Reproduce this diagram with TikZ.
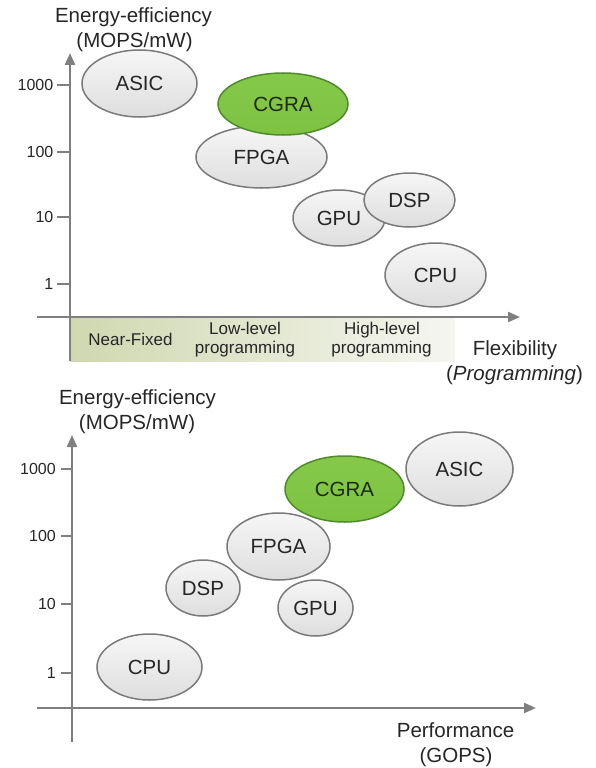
\documentclass[tikz,border=0pt]{standalone}
\usepackage{fontspec}
\setmainfont{Liberation Sans}
\usetikzlibrary{shapes.geometric,arrows.meta}
\definecolor{axisgray}{HTML}{7F7F7F}
\definecolor{edgegray}{HTML}{7A7A7A}
\definecolor{fillTop}{HTML}{F6F6F6}
\definecolor{fillBot}{HTML}{DEDEDE}
\definecolor{txt}{HTML}{262626}
\definecolor{cgraFill}{HTML}{7EC242}
\definecolor{cgraTop}{HTML}{86C94A}
\definecolor{cgraEdge}{HTML}{4F8A2B}
\definecolor{cgraTxt}{HTML}{1B2A10}
\definecolor{bandgreen}{HTML}{CFD8B0}
\definecolor{bandpale}{HTML}{F5F6F0}
\begin{document}
\begin{tikzpicture}[x=1pt,y=-1pt,
  axisline/.style={draw=axisgray,line width=2.2pt,-{Triangle[length=12pt,width=10pt]}},
  tickline/.style={draw=axisgray,line width=2pt},
  bigtext/.style={font=\fontsize{20.5}{24}\selectfont,text=txt,inner sep=0pt},
  bandtext/.style={font=\fontsize{17}{19.4}\selectfont,text=txt,inner sep=0pt},
  ticktext/.style={font=\fontsize{16}{18}\selectfont,text=txt,inner sep=0pt,anchor=east},
  blob/.style={ellipse,draw=edgegray,line width=1.5pt,top color=fillTop,bottom color=fillBot,
    inner sep=0pt,font=\fontsize{20.5}{24}\selectfont,text=txt},
  greenblob/.style={blob,draw=cgraEdge,top color=cgraTop,bottom color=cgraFill,text=cgraTxt}]
\useasboundingbox (0,0) rectangle (596,768);

% ---------- upper chart: efficiency versus flexibility ----------
\node[bigtext,anchor=base] (tY1) at (133.5,22.7) {Energy-efficiency};
\node[bigtext,anchor=base] (tY1b) at (134.5,47.7) {(MOPS/mW)};

% programming band under the horizontal axis
\shade[left color=bandgreen,right color=bandpale] (70,317) rectangle (455,361);
\node[bandtext,anchor=base] (nf) at (130.5,345) {Near-Fixed};
\node[bandtext,anchor=base] (ll1) at (245,334) {Low-level};
\node[bandtext,anchor=base] (ll2) at (245,353.3) {programming};
\node[bandtext,anchor=base] (hl1) at (382,334) {High-level};
\node[bandtext,anchor=base] (hl2) at (381.5,353.3) {programming};

\coordinate (oY1) at (70,361);
\coordinate (eY1) at (70,53);
\coordinate (sX1) at (37,317);
\coordinate (eX1) at (520,317);
\draw[axisline] (oY1) -- (eY1);
\draw[axisline] (sX1) -- (eX1);

\foreach \yy/\lab in {85/1000,152/100,217/10,284/1}{
  \draw[tickline] (57,\yy) -- (70,\yy);
  \node[ticktext] at (53.5,\yy) {\lab};
}

\node[bigtext,anchor=base] (fx) at (515,355.7) {Flexibility};
\node[bigtext,anchor=base] (fxb) at (514.5,380.7) {(\textit{Programming})};

\node[blob,minimum width=115pt,minimum height=67pt] (asic1) at (139.5,83.5) {ASIC};
\node[blob,minimum width=131pt,minimum height=62pt] (fpga1) at (261.5,157) {FPGA};
\node[greenblob,minimum width=130pt,minimum height=62pt] (cgra1) at (283,104) {CGRA};
\node[blob,minimum width=92pt,minimum height=56pt] (gpu1) at (339,218) {GPU};
\node[blob,minimum width=91pt,minimum height=54pt] (dsp1) at (409.5,200) {DSP};
\node[blob,minimum width=101pt,minimum height=64pt] (cpu1) at (435.5,275) {CPU};

% ---------- lower chart: efficiency versus performance ----------
\node[bigtext,anchor=base] (tY2) at (137.5,404) {Energy-efficiency};
\node[bigtext,anchor=base] (tY2b) at (137,429) {(MOPS/mW)};

\coordinate (oY2) at (72,742);
\coordinate (eY2) at (72,435);
\coordinate (sX2) at (37,708);
\coordinate (eX2) at (536,708);
\draw[axisline] (oY2) -- (eY2);
\draw[axisline] (sX2) -- (eX2);

\foreach \yy/\lab in {469/1000,536/100,604/10,673/1}{
  \draw[tickline] (61,\yy) -- (72,\yy);
  \node[ticktext] at (56,\yy) {\lab};
}

\node[bigtext,anchor=base] (pf) at (455.5,737) {Performance};
\node[bigtext,anchor=base] (pfb) at (456,762) {(GOPS)};

\node[blob,minimum width=105pt,minimum height=66pt] (cpu2) at (149.5,667) {CPU};
\node[blob,minimum width=74pt,minimum height=56pt] (dsp2) at (203,588) {DSP};
\node[blob,minimum width=75pt,minimum height=56pt] (gpu2) at (315.5,608) {GPU};
\node[blob,minimum width=103pt,minimum height=67pt] (fpga2) at (278.5,546.5) {FPGA};
\node[greenblob,minimum width=119pt,minimum height=66pt] (cgra2) at (344.5,489) {CGRA};
\node[blob,minimum width=107pt,minimum height=74pt] (asic2) at (459.5,469) {ASIC};
\end{tikzpicture}
\end{document}
